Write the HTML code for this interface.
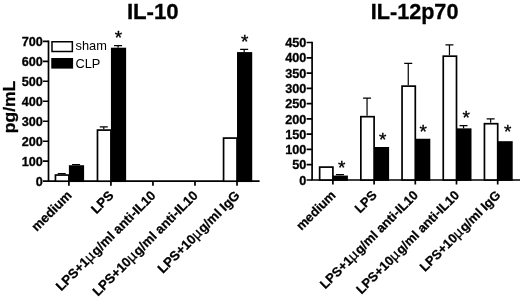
<!DOCTYPE html>
<html><head><meta charset="utf-8"><title>IL-10 / IL-12p70</title>
<style>
html,body{margin:0;padding:0;background:#fff;}
body{width:520px;height:298px;overflow:hidden;}
svg{display:block;font-family:"Liberation Sans",sans-serif;}
.t{font-weight:bold;font-size:21.5px;stroke:#000;stroke-width:0.3px;}
.y{font-weight:bold;font-size:12.7px;text-anchor:end;stroke:#000;stroke-width:0.3px;}
.x{font-weight:bold;font-size:13.2px;text-anchor:end;stroke:#000;stroke-width:0.25px;}
.l{font-size:12.8px;}
.m{font-weight:normal;font-size:14.2px;letter-spacing:0.9px;stroke:#000;stroke-width:0.3px;}
.s{font-size:19px;stroke:#000;stroke-width:0.35px;text-anchor:middle;}
.u{font-weight:bold;font-size:16.5px;text-anchor:middle;stroke:#000;stroke-width:0.3px;}
</style></head><body>
<svg width="520" height="298" viewBox="0 0 520 298">
<rect width="520" height="298" fill="#fff"/>
<g stroke="#000" stroke-width="1.7" fill="none">
<path d="M48.5 40.45 V181.2 H259.6"/>
<path d="M43 181.2H48.5M43 161.21H48.5M43 141.23H48.5M43 121.24H48.5M43 101.26H48.5M43 81.27H48.5M43 61.29H48.5M43 41.3H48.5"/>
<path d="M68.9 181.2V185.8M110.93 181.2V185.8M152.96 181.2V185.8M194.99 181.2V185.8M237.02 181.2V185.8"/>
</g>
<path d="M61.75 174.2V173.61M57.75 173.61H65.75" stroke="#000" stroke-width="1.2" fill="none"/>
<rect x="55.45" y="175.05" width="13.45" height="6.15" fill="#fff" stroke="#000" stroke-width="1.7"/>
<path d="M76.05 165.21V164.51M72.05 164.51H80.05" stroke="#000" stroke-width="1.2" fill="none"/>
<rect x="68.9" y="165.21" width="15.2" height="16.84" fill="#000"/>
<path d="M103.78 129.24V126.84M99.78 126.84H107.78" stroke="#000" stroke-width="1.2" fill="none"/>
<rect x="97.48" y="130.09" width="13.45" height="51.11" fill="#fff" stroke="#000" stroke-width="1.7"/>
<path d="M118.08 47.7V45.7M114.08 45.7H122.08" stroke="#000" stroke-width="1.2" fill="none"/>
<rect x="110.93" y="47.7" width="15.2" height="134.35" fill="#000"/>
<rect x="223.57" y="138.08" width="13.45" height="43.12" fill="#fff" stroke="#000" stroke-width="1.7"/>
<path d="M244.17 52.09V49.39M240.17 49.39H248.17" stroke="#000" stroke-width="1.2" fill="none"/>
<rect x="237.02" y="52.09" width="15.2" height="129.96" fill="#000"/>
<text class="y" x="42.8" y="185.85">0</text>
<text class="y" x="42.8" y="165.86">100</text>
<text class="y" x="42.8" y="145.88">200</text>
<text class="y" x="42.8" y="125.89">300</text>
<text class="y" x="42.8" y="105.91">400</text>
<text class="y" x="42.8" y="85.92">500</text>
<text class="y" x="42.8" y="65.94">600</text>
<text class="y" x="42.8" y="45.95">700</text>
<text class="x" transform="translate(72.5 196.3) rotate(-45)">medium</text>
<text class="x" transform="translate(114.53 196.3) rotate(-45)">LPS</text>
<text class="x" transform="translate(156.56 196.3) rotate(-45)">LPS+1<tspan class="m">µ</tspan>g/ml anti-IL10</text>
<text class="x" transform="translate(198.59 196.3) rotate(-45)">LPS+10<tspan class="m">µ</tspan>g/ml anti-IL10</text>
<text class="x" transform="translate(240.62 196.3) rotate(-45)">LPS+10<tspan class="m">µ</tspan>g/ml IgG</text>
<text class="t" style="font-size:22.2px" x="152.8" y="18.7" text-anchor="middle">IL-10</text>
<g stroke="#000" stroke-width="1.7" fill="none">
<path d="M312.1 41.65 V180 H521"/>
<path d="M306.6 180H312.1M306.6 164.72H312.1M306.6 149.44H312.1M306.6 134.17H312.1M306.6 118.89H312.1M306.6 103.61H312.1M306.6 88.33H312.1M306.6 73.06H312.1M306.6 57.78H312.1M306.6 42.5H312.1"/>
<path d="M332.9 180V184.6M374.1 180V184.6M415.3 180V184.6M456.5 180V184.6M497.7 180V184.6"/>
</g>
<rect x="319.65" y="167.1" width="13.25" height="12.9" fill="#fff" stroke="#000" stroke-width="1.7"/>
<path d="M339.95 175.57V174.68M335.95 174.68H343.95" stroke="#000" stroke-width="1.2" fill="none"/>
<rect x="332.9" y="175.57" width="15" height="5.28" fill="#000"/>
<path d="M367.05 115.83V98.11M363.05 98.11H371.05" stroke="#000" stroke-width="1.2" fill="none"/>
<rect x="360.85" y="116.68" width="13.25" height="63.32" fill="#fff" stroke="#000" stroke-width="1.7"/>
<rect x="374.1" y="147" width="15" height="33.85" fill="#000"/>
<path d="M408.25 85.28V63.28M404.25 63.28H412.25" stroke="#000" stroke-width="1.2" fill="none"/>
<rect x="402.05" y="86.13" width="13.25" height="93.87" fill="#fff" stroke="#000" stroke-width="1.7"/>
<rect x="415.3" y="138.75" width="15" height="42.1" fill="#000"/>
<path d="M449.45 55.33V44.94M445.45 44.94H453.45" stroke="#000" stroke-width="1.2" fill="none"/>
<rect x="443.25" y="56.18" width="13.25" height="123.82" fill="#fff" stroke="#000" stroke-width="1.7"/>
<path d="M463.55 128.36V125.61M459.55 125.61H467.55" stroke="#000" stroke-width="1.2" fill="none"/>
<rect x="456.5" y="128.36" width="15" height="52.49" fill="#000"/>
<path d="M490.65 122.86V118.89M486.65 118.89H494.65" stroke="#000" stroke-width="1.2" fill="none"/>
<rect x="484.45" y="123.71" width="13.25" height="56.29" fill="#fff" stroke="#000" stroke-width="1.7"/>
<rect x="497.7" y="141.19" width="15" height="39.66" fill="#000"/>
<text class="y" x="306.4" y="184.65">0</text>
<text class="y" x="306.4" y="169.37">50</text>
<text class="y" x="306.4" y="154.09">100</text>
<text class="y" x="306.4" y="138.82">150</text>
<text class="y" x="306.4" y="123.54">200</text>
<text class="y" x="306.4" y="108.26">250</text>
<text class="y" x="306.4" y="92.98">300</text>
<text class="y" x="306.4" y="77.71">350</text>
<text class="y" x="306.4" y="62.43">400</text>
<text class="y" x="306.4" y="47.15">450</text>
<text class="x" style="font-size:12.95px" transform="translate(336.5 196) rotate(-45)">medium</text>
<text class="x" style="font-size:12.95px" transform="translate(377.7 196) rotate(-45)">LPS</text>
<text class="x" style="font-size:12.95px" transform="translate(418.9 196) rotate(-45)">LPS+1<tspan class="m">µ</tspan>g/ml anti-IL10</text>
<text class="x" style="font-size:12.95px" transform="translate(460.1 196) rotate(-45)">LPS+10<tspan class="m">µ</tspan>g/ml anti-IL10</text>
<text class="x" style="font-size:12.95px" transform="translate(501.3 196) rotate(-45)">LPS+10<tspan class="m">µ</tspan>g/ml IgG</text>
<text class="t" style="font-size:21.6px" x="414.6" y="19" text-anchor="middle">IL-12p70</text>
<rect x="52" y="41.75" width="20.35" height="9.75" fill="#fff" stroke="#000" stroke-width="1.5"/>
<rect x="51.25" y="58" width="21.85" height="10.6" fill="#000"/>
<text class="l" x="75.5" y="50.4">sham</text>
<text class="l" x="75.5" y="67.9">CLP</text>
<text class="s" x="118.5" y="43.8">*</text>
<text class="s" x="244.6" y="47.7">*</text>
<text class="s" x="341.8" y="174.3">*</text>
<text class="s" x="382.8" y="145.6">*</text>
<text class="s" x="423.3" y="138.1">*</text>
<text class="s" x="466.1" y="123.8">*</text>
<text class="s" x="507.7" y="137.9">*</text>
<text class="u" transform="translate(14.7 107) rotate(-90) scale(1.06 1.02)">pg/mL</text>
</svg>
</body></html>
